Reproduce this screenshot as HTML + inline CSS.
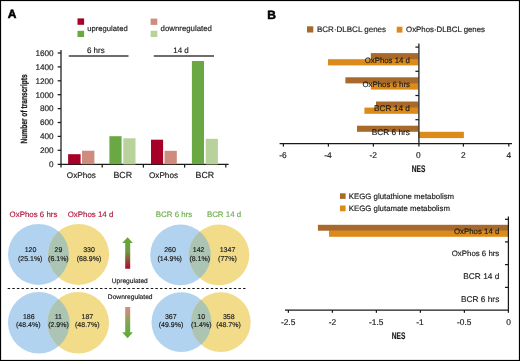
<!DOCTYPE html>
<html><head><meta charset="utf-8">
<style>
html,body{margin:0;padding:0;background:#fff;overflow:hidden;width:520px;height:361px;}
svg{display:block;will-change:transform;text-rendering:geometricPrecision;}
text{font-family:"Liberation Sans",sans-serif;color:#1a1a1a;fill:currentColor;stroke:currentColor;stroke-width:0.16px;}
</style></head>
<body>
<svg width="520" height="361" viewBox="0 0 520 361">
<defs>
<linearGradient id="gup" x1="0" y1="0" x2="0" y2="1">
<stop offset="0" stop-color="#63a83b"/><stop offset="0.45" stop-color="#6f9a3a"/><stop offset="1" stop-color="#b3052e"/>
</linearGradient>
<linearGradient id="gdn" x1="0" y1="0" x2="0" y2="1">
<stop offset="0" stop-color="#dc8a86"/><stop offset="0.55" stop-color="#7aa84a"/><stop offset="1" stop-color="#5fa83a"/>
</linearGradient>
<clipPath id="c1"><circle cx="38.5" cy="254.4" r="30.5"/></clipPath>
<clipPath id="c2"><circle cx="180.5" cy="254.9" r="30.3"/></clipPath>
<clipPath id="c3"><circle cx="38.8" cy="322.7" r="30.8"/></clipPath>
<clipPath id="c4"><circle cx="181.4" cy="322.2" r="29.9"/></clipPath>
</defs>
<rect x="0" y="0" width="520" height="361" fill="#fff"/>

<!-- ============ PANEL A ============ -->
<text x="7.8" y="17.9" font-size="12" font-weight="bold" style="color:#000;stroke-width:0.55px">A</text>

<!-- legend -->
<rect x="77.5" y="18.4" width="6.6" height="6.4" fill="#a60028"/>
<rect x="77.5" y="30.8" width="6.6" height="6.2" fill="#6aa844"/>
<text x="87.3" y="30.7" font-size="7.65">upregulated</text>
<rect x="150.6" y="18.6" width="6.7" height="6.3" fill="#cd8c7d"/>
<rect x="150.6" y="30.7" width="6.7" height="6.3" fill="#b9d29b"/>
<text x="160.6" y="30.7" font-size="7.84">downregulated</text>

<!-- group headings -->
<text x="95.8" y="52.7" font-size="8" text-anchor="middle">6 hrs</text>
<line x1="68.8" y1="56" x2="128.5" y2="56" stroke="#3c3c3c" stroke-width="1.3"/>
<text x="181" y="53.1" font-size="8" text-anchor="middle">14 d</text>
<line x1="153.8" y1="56" x2="214" y2="56" stroke="#3c3c3c" stroke-width="1.3"/>

<!-- y axis title -->
<text transform="translate(27.2,108.9) rotate(-90) scale(0.735,1)" font-size="9" font-weight="bold" text-anchor="middle" style="stroke-width:0.25px">Number of transcripts</text>

<!-- y axis -->
<g stroke="#1a1a1a" stroke-width="1.25" fill="none">
<line x1="61" y1="50" x2="61" y2="167.6"/>
<line x1="57.7" y1="53.0" x2="61" y2="53.0"/>
<line x1="57.7" y1="66.9" x2="61" y2="66.9"/>
<line x1="57.7" y1="80.8" x2="61" y2="80.8"/>
<line x1="57.7" y1="94.7" x2="61" y2="94.7"/>
<line x1="57.7" y1="108.6" x2="61" y2="108.6"/>
<line x1="57.7" y1="122.5" x2="61" y2="122.5"/>
<line x1="57.7" y1="136.4" x2="61" y2="136.4"/>
<line x1="57.7" y1="150.3" x2="61" y2="150.3"/>
<line x1="57.7" y1="164.4" x2="228.6" y2="164.4"/>
<line x1="102.2" y1="164.4" x2="102.2" y2="167.6"/>
<line x1="143.4" y1="164.4" x2="143.4" y2="167.6"/>
<line x1="184.6" y1="164.4" x2="184.6" y2="167.6"/>
<line x1="225.8" y1="164.4" x2="225.8" y2="167.6"/>
</g>
<g font-size="8.2" text-anchor="end">
<text x="53.6" y="55.8">1600</text>
<text x="53.6" y="69.7">1400</text>
<text x="53.6" y="83.6">1200</text>
<text x="53.6" y="97.5">1000</text>
<text x="53.6" y="111.4">800</text>
<text x="53.6" y="125.3">600</text>
<text x="53.6" y="139.2">400</text>
<text x="53.6" y="153.1">200</text>
<text x="53.6" y="167.0">0</text>
</g>

<!-- bars -->
<rect x="68.1" y="154.2" width="12.5" height="10" fill="#a60028"/>
<rect x="82.0" y="150.7" width="12.4" height="13.5" fill="#cd8c7d"/>
<rect x="109.4" y="136.2" width="12.2" height="28" fill="#6aa844"/>
<rect x="123.3" y="138.3" width="12.2" height="26.1" fill="#b9d29b"/>
<rect x="151.0" y="139.7" width="12.1" height="24.5" fill="#a60028"/>
<rect x="164.5" y="150.8" width="12.3" height="13.4" fill="#cd8c7d"/>
<rect x="191.9" y="61.0" width="12.1" height="103.2" fill="#6aa844"/>
<rect x="205.7" y="138.8" width="12.2" height="25.6" fill="#b9d29b"/>

<g font-size="8.2" text-anchor="middle">
<text x="81.4" y="178.2">OxPhos</text>
<text x="122.7" y="178.2" font-size="8.8">BCR</text>
<text x="163.5" y="178.2">OxPhos</text>
<text x="204.9" y="178.2" font-size="8.8">BCR</text>
</g>

<!-- ============ VENN ============ -->
<g font-size="7.9" text-anchor="middle">
<text x="33.5" y="216.7" style="color:#b3173c">OxPhos 6 hrs</text>
<text x="90.5" y="216.7" style="color:#b3173c">OxPhos 14 d</text>
<text x="174" y="216.9" style="color:#6fae4f">BCR 6 hrs</text>
<text x="224" y="216.9" style="color:#6fae4f">BCR 14 d</text>
</g>

<circle cx="38.5" cy="254.4" r="30.5" fill="#b2d3ef"/>
<circle cx="78.6" cy="254.4" r="30.5" fill="#f2dc8a"/>
<circle cx="78.6" cy="254.4" r="30.5" fill="#acc4b3" clip-path="url(#c1)"/>

<circle cx="180.5" cy="254.9" r="30.3" fill="#b2d3ef"/>
<circle cx="219" cy="254.9" r="30.3" fill="#f2dc8a"/>
<circle cx="219" cy="254.9" r="30.3" fill="#acc4b3" clip-path="url(#c2)"/>

<circle cx="38.8" cy="322.7" r="30.8" fill="#b2d3ef"/>
<circle cx="78.2" cy="322.7" r="30.8" fill="#f2dc8a"/>
<circle cx="78.2" cy="322.7" r="30.8" fill="#acc4b3" clip-path="url(#c3)"/>

<circle cx="181.4" cy="322.2" r="29.9" fill="#b2d3ef"/>
<circle cx="220.8" cy="322.2" r="29.9" fill="#f2dc8a"/>
<circle cx="220.8" cy="322.2" r="29.9" fill="#acc4b3" clip-path="url(#c4)"/>

<g font-size="7" text-anchor="middle">
<text x="30.5" y="252.4">120</text><text x="30.2" y="260.6">(25.1%)</text>
<text x="58.5" y="252.4">29</text><text x="58.4" y="260.6">(6.1%)</text>
<text x="89" y="252.4">330</text><text x="89" y="260.6">(68.9%)</text>
<text x="170" y="252.4">260</text><text x="169.7" y="260.6">(14.9%)</text>
<text x="198.6" y="252.4">142</text><text x="199.7" y="260.6">(8.1%)</text>
<text x="227.5" y="252.4">1347</text><text x="227.4" y="260.6">(77%)</text>

<text x="28.8" y="318.6">186</text><text x="28.3" y="327.2">(48.4%)</text>
<text x="58.3" y="318.6">11</text><text x="58.5" y="327.2">(2.9%)</text>
<text x="87.4" y="318.6">187</text><text x="87.3" y="327.2">(48.7%)</text>
<text x="170.8" y="318.6">367</text><text x="171" y="327.2">(49.9%)</text>
<text x="201.2" y="318.6">10</text><text x="201.2" y="327.2">(1.4%)</text>
<text x="228.8" y="318.6">358</text><text x="228.5" y="327.2">(48.7%)</text>
</g>

<line x1="7.7" y1="288.5" x2="246.5" y2="288.5" stroke="#151515" stroke-width="1.2" stroke-dasharray="2.45 2.165"/>
<text x="129.8" y="282.6" font-size="6.6" text-anchor="middle">Upregulated</text>
<text x="130.2" y="299.3" font-size="6.65" text-anchor="middle">Downregulated</text>

<!-- arrows -->
<path d="M125.2,268.8 L125.2,243 L122.2,243 L127.6,237.2 L132.9,243 L130.2,243 L130.2,268.8 Z" fill="url(#gup)"/>
<path d="M125.2,306.9 L125.2,332.3 L122.2,332.3 L127.6,338.2 L132.9,332.3 L130.2,332.3 L130.2,306.9 Z" fill="url(#gdn)"/>

<!-- ============ PANEL B top ============ -->
<text x="267.3" y="18.8" font-size="12" font-weight="bold" style="color:#000;stroke-width:0.55px">B</text>
<rect x="307" y="26.3" width="6.3" height="6.2" fill="#a8692a"/>
<text x="317" y="32.4" font-size="8">BCR&#183;DLBCL genes</text>
<rect x="396.7" y="26.7" width="5.7" height="5.9" fill="#dc8b1b"/>
<text x="406.1" y="32.4" font-size="7.83">OxPhos&#183;DLBCL genes</text>

<!-- bars -->
<rect x="370.8" y="53.1" width="47.6" height="6.1" fill="#a8692a"/>
<rect x="370.8" y="58.7" width="47.6" height="1.2" fill="#a8692a"/>
<rect x="328" y="59.2" width="90.4" height="6.2" fill="#dc8b1b"/>
<rect x="345.4" y="77.3" width="73" height="6.1" fill="#a8692a"/>
<rect x="370.8" y="82.9" width="47.6" height="1.2" fill="#a8692a"/>
<rect x="370.8" y="83.4" width="47.6" height="6.2" fill="#dc8b1b"/>
<rect x="376" y="101.5" width="42.4" height="6.1" fill="#a8692a"/>
<rect x="376" y="107.1" width="42.4" height="1.2" fill="#a8692a"/>
<rect x="364.4" y="107.6" width="54" height="6.2" fill="#dc8b1b"/>
<rect x="357" y="125.7" width="61.4" height="6.1" fill="#a8692a"/>
<rect x="418.4" y="131.8" width="45.5" height="6.3" fill="#dc8b1b"/>

<g font-size="7.85" text-anchor="end">
<text x="410" y="62.5">OxPhos 14 d</text>
<text x="410" y="86.8">OxPhos 6 hrs</text>
<text x="410" y="110.5" font-size="8.3">BCR 14 d</text>
<text x="410" y="134.7" font-size="8.3">BCR 6 hrs</text>
</g>

<g stroke="#1a1a1a" stroke-width="1.25" fill="none">
<line x1="418.9" y1="43.5" x2="418.9" y2="146.6"/>
<line x1="415.4" y1="47.1" x2="418.9" y2="47.1"/>
<line x1="415.4" y1="71.3" x2="418.9" y2="71.3"/>
<line x1="415.4" y1="95.5" x2="418.9" y2="95.5"/>
<line x1="415.4" y1="119.7" x2="418.9" y2="119.7"/>
<line x1="279.6" y1="143.5" x2="512" y2="143.5"/>
<line x1="283.4" y1="143.5" x2="283.4" y2="146.6"/>
<line x1="328.4" y1="143.5" x2="328.4" y2="146.6"/>
<line x1="373.4" y1="143.5" x2="373.4" y2="146.6"/>
<line x1="463.4" y1="143.5" x2="463.4" y2="146.6"/>
<line x1="508.8" y1="143.5" x2="508.8" y2="146.6"/>
</g>
<g font-size="8.4" text-anchor="middle">
<text x="282.9" y="157.8">-6</text>
<text x="328" y="157.8">-4</text>
<text x="373.2" y="157.8">-2</text>
<text x="418.4" y="157.8">0</text>
<text x="463.4" y="157.8">2</text>
<text x="508.8" y="157.8">4</text>
</g>
<text transform="translate(418.6,172.1) scale(0.685,1)" font-size="9.6" font-weight="bold" text-anchor="middle">NES</text>

<!-- ============ PANEL B bottom ============ -->
<rect x="340" y="193.3" width="5.6" height="5.6" fill="#a8692a"/>
<text x="348.8" y="198.9" font-size="7.84">KEGG glutathione metabolism</text>
<rect x="340" y="205.5" width="5.6" height="5.8" fill="#dc8b1b"/>
<text x="348.8" y="211.2" font-size="7.82">KEGG glutamate metabolism</text>

<rect x="317.9" y="224.8" width="190.5" height="5.9" fill="#a8692a"/>
<rect x="329" y="230.2" width="179.4" height="1.2" fill="#a8692a"/>
<rect x="329" y="230.7" width="179.4" height="6.1" fill="#dc8b1b"/>

<g font-size="7.85" text-anchor="end">
<text x="499.3" y="233.5">OxPhos 14 d</text>
<text x="499.3" y="256.2">OxPhos 6 hrs</text>
<text x="499.3" y="278.8" font-size="8.3">BCR 14 d</text>
<text x="499.3" y="301.6" font-size="8.3">BCR 6 hrs</text>
</g>

<g stroke="#1a1a1a" stroke-width="1.25" fill="none">
<line x1="508.4" y1="216.5" x2="508.4" y2="310.6"/>
<line x1="505" y1="219.3" x2="508.4" y2="219.3"/>
<line x1="505" y1="241.9" x2="508.4" y2="241.9"/>
<line x1="505" y1="264.6" x2="508.4" y2="264.6"/>
<line x1="505" y1="287.4" x2="508.4" y2="287.4"/>
<line x1="285" y1="310.1" x2="508.4" y2="310.1"/>
<line x1="288.4" y1="310.1" x2="288.4" y2="312.8"/>
<line x1="332.4" y1="310.1" x2="332.4" y2="312.8"/>
<line x1="376.4" y1="310.1" x2="376.4" y2="312.8"/>
<line x1="420.4" y1="310.1" x2="420.4" y2="312.8"/>
<line x1="464.4" y1="310.1" x2="464.4" y2="312.8"/>
<line x1="508.4" y1="310.1" x2="508.4" y2="312.8"/>
</g>
<g font-size="8.4" text-anchor="middle">
<text x="288.1" y="324.5">-2.5</text>
<text x="332.5" y="324.5">-2</text>
<text x="376.2" y="324.5">-1.5</text>
<text x="420" y="324.5">-1</text>
<text x="464.2" y="324.5">-0.5</text>
<text x="508.5" y="324.5">0</text>
</g>
<text transform="translate(398.6,339.1) scale(0.685,1)" font-size="9.6" font-weight="bold" text-anchor="middle">NES</text>

<!-- border -->
<rect x="0.5" y="0.5" width="519" height="360" fill="none" stroke="#000" stroke-width="1.2"/>
</svg>
</body></html>
